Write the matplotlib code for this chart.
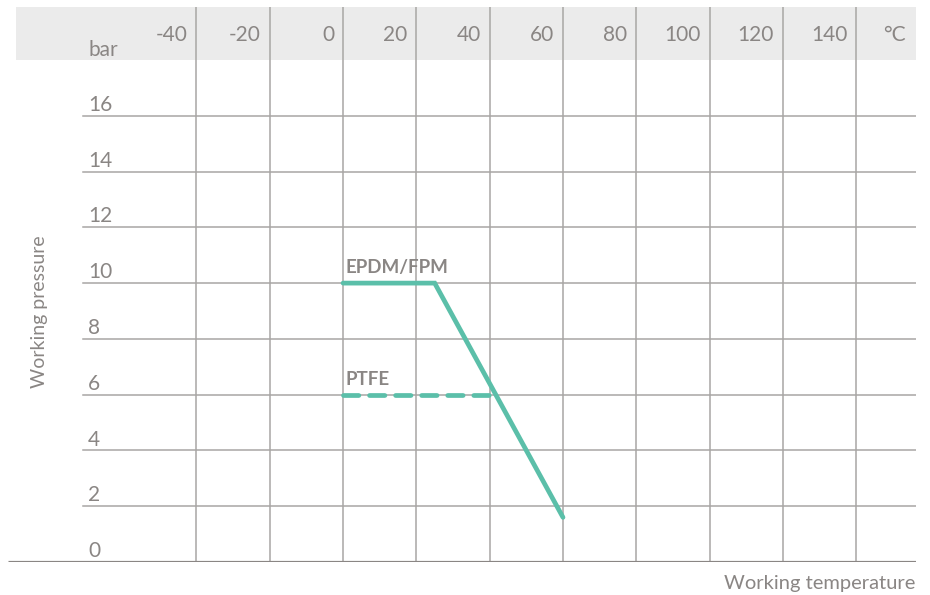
import matplotlib
matplotlib.use("Agg")
import matplotlib.pyplot as plt

# data
temp_ticks = [-40, -20, 0, 20, 40, 60, 80, 100, 120, 140]
pressure_ticks = [0, 2, 4, 6, 8, 10, 12, 14, 16]

epdm_temp = [0, 25, 60]
epdm_pressure = [10, 10, 1.6]
ptfe_temp = [0, 42]
ptfe_pressure = [6, 6]

TEXT = "#8a8684"
GRID = "#a8a6a4"
BAND = "#ebebeb"
TEAL = "#5bbfa9"
FONT = ["Lato", "DejaVu Sans"]

fig = plt.figure(figsize=(9.3, 5.95), dpi=100)
# axes spans pixel x 8..916, y 7..562
ax = fig.add_axes([8 / 930, 1 - 562 / 595, 908 / 930, 555 / 595])
xmin, xmax = -91.4, 156.3
ymin, ymax = 0, 19.9
ax.set_xlim(xmin, xmax)
ax.set_ylim(ymin, ymax)
ax.axis("off")

# grey header band
ax.axhspan(18, ymax, xmin=(-89.3 - xmin) / (xmax - xmin), xmax=1, color=BAND, lw=0, zorder=0)

# grid
for t in temp_ticks:
    ax.plot([t, t], [0, ymax], color=GRID, lw=1.1, zorder=1)
for p in pressure_ticks[1:]:
    ax.plot([-70.9, xmax], [p, p], color=GRID, lw=1.1, zorder=1)
ax.plot([xmin, xmax], [0, 0], color="#8a8684", lw=2.3, zorder=2, solid_capstyle="butt")

# tick labels
kw = dict(fontsize=15, color=TEXT, family=FONT, fontweight="normal")
for t in temp_ticks:
    ax.text(t - 2.4, 18.9, str(t), ha="right", va="center", **kw)
ax.text(153.5, 18.9, "°C", ha="right", va="center", **kw)
ax.text(-69.5, 18.35, "bar", ha="left", va="center", **kw)
for p in pressure_ticks:
    ax.text(-69.5, p + 0.03, str(p), ha="left", va="bottom", **kw)

# series
ax.plot(epdm_temp, epdm_pressure, color=TEAL, lw=3.4, solid_capstyle="round",
        solid_joinstyle="miter", zorder=4)
ax.plot(ptfe_temp, ptfe_pressure, color=TEAL, lw=3.4, dashes=(3.25, 2.27),
        dash_capstyle="round", zorder=4)
ax.text(0.8, 10.25, "EPDM/FPM", ha="left", va="bottom", fontsize=13.5,
        color=TEXT, family=FONT, fontweight="bold")
ax.text(0.8, 6.25, "PTFE", ha="left", va="bottom", fontsize=13.5,
        color=TEXT, family=FONT, fontweight="bold")

# axis titles
fig.text(40 / 930, 1 - 312 / 595, "Working pressure", rotation=90, ha="center",
         va="center", fontsize=14, color=TEXT, family=FONT)
fig.text(915 / 930, 1 - 583 / 595, "Working temperature", ha="right", va="center",
         fontsize=14.5, color=TEXT, family=FONT)

fig.savefig("out.png", dpi=100)
